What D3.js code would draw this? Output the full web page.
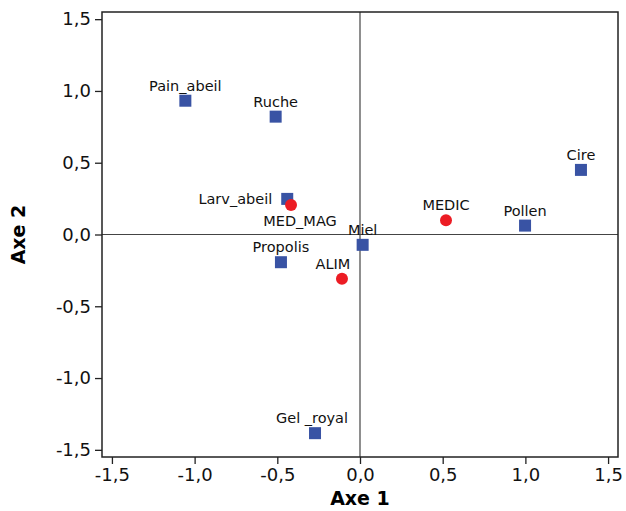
<!DOCTYPE html>
<html>
<head>
<meta charset="utf-8">
<script src="https://cdn.jsdelivr.net/npm/d3@7"></script>
<style>
    body { margin: 0; background: #fff; }
    svg { font-family: "DejaVu Sans", Verdana, sans-serif; }
    .tick text { fill: #111; }
</style>
</head>
<body>
<div id="chart"></div>
<script>
    // modalities (squares) and supplementary variables (circles)
    var names = ["Pain_abeil", "Ruche", "Larv_abeil", "Propolis", "Miel", "Pollen", "Cire", "Gel _royal"];
    var axe1 = [-1.056, -0.51, -0.44, -0.478, 0.016, 0.998, 1.336, -0.272];
    var axe2 = [0.932, 0.821, 0.248, -0.193, -0.072, 0.062, 0.45, -1.384];

    var supNames = ["MED_MAG", "MEDIC", "ALIM"];
    var supAxe1 = [-0.417, 0.52, -0.109];
    var supAxe2 = [0.206, 0.10, -0.309];

    var ticks = [-1.5, -1.0, -0.5, 0.0, 0.5, 1.0, 1.5];

    // label placement relative to marker (dx, dy, anchor)
    var labelPos = {
        "Larv_abeil": [-15, 5, "end"],
        "MED_MAG": [9, 21, "middle"],
        "ALIM": [-9, -10, "middle"],
        "Gel _royal": [-3, -10, "middle"]
    };

    var margin = {top: 12, right: 8, bottom: 54, left: 102},
        width = 626 - margin.left - margin.right,
        height = 511 - margin.top - margin.bottom;

    var x = d3.scaleLinear().domain([-1.56, 1.56]).range([0, width]);
    var y = d3.scaleLinear().domain([-1.55, 1.55]).range([height, 0]);

    var fmt = function(d) { return d3.format(".1f")(d).replace(".", ",").replace("−", "-"); };

    var svg = d3.select("#chart").append("svg")
        .attr("width", 626)
        .attr("height", 511)
        .append("g")
        .attr("transform", "translate(" + margin.left + "," + margin.top + ")");

    // zero reference lines
    svg.append("line")
        .attr("x1", x(0)).attr("x2", x(0))
        .attr("y1", 0).attr("y2", height)
        .attr("stroke", "#444").attr("stroke-width", 1.2);
    svg.append("line")
        .attr("x1", 0).attr("x2", width)
        .attr("y1", y(0)).attr("y2", y(0))
        .attr("stroke", "#444").attr("stroke-width", 1.2);

    // frame
    svg.append("rect")
        .attr("width", width).attr("height", height)
        .attr("fill", "none").attr("stroke", "#222").attr("stroke-width", 1.5);

    // axes
    var xAxis = svg.append("g")
        .attr("transform", "translate(0," + height + ")")
        .call(d3.axisBottom(x).tickValues(ticks).tickFormat(fmt).tickSize(7).tickPadding(4));
    var yAxis = svg.append("g")
        .call(d3.axisLeft(y).tickValues(ticks).tickFormat(fmt).tickSize(7).tickPadding(4));
    [xAxis, yAxis].forEach(function(a) {
        a.select(".domain").remove();
        a.selectAll(".tick line").attr("stroke", "#222").attr("stroke-width", 1.3);
        a.selectAll(".tick text").attr("font-size", "18px").attr("font-family", "DejaVu Sans");
    });

    // axis titles
    svg.append("text")
        .attr("x", x(0)).attr("y", height + 48)
        .attr("text-anchor", "middle")
        .attr("font-size", "19px").attr("font-weight", "bold")
        .text("Axe 1");
    svg.append("text")
        .attr("transform", "translate(" + (-77) + "," + y(0) + ") rotate(-90)")
        .attr("text-anchor", "middle")
        .attr("font-size", "19px").attr("font-weight", "bold")
        .text("Axe 2");

    function labelOf(n) { return labelPos[n] || [0, -10, "middle"]; }

    // squares
    var sq = 12;
    svg.selectAll(".sq")
        .data(names)
        .enter().append("rect")
        .attr("class", "sq")
        .attr("x", function(d, i) { return x(axe1[i]) - sq / 2; })
        .attr("y", function(d, i) { return y(axe2[i]) - sq / 2; })
        .attr("width", sq).attr("height", sq)
        .attr("fill", "#3953a4");

    // circles
    svg.selectAll(".sup")
        .data(supNames)
        .enter().append("circle")
        .attr("class", "sup")
        .attr("cx", function(d, i) { return x(supAxe1[i]); })
        .attr("cy", function(d, i) { return y(supAxe2[i]); })
        .attr("r", 6)
        .attr("fill", "#ec1c24");

    // labels
    svg.selectAll(".lab")
        .data(names)
        .enter().append("text")
        .attr("class", "lab")
        .attr("x", function(d, i) { return x(axe1[i]) + labelOf(d)[0]; })
        .attr("y", function(d, i) { return y(axe2[i]) + labelOf(d)[1]; })
        .attr("text-anchor", function(d) { return labelOf(d)[2]; })
        .attr("font-size", "14.5px").attr("fill", "#111")
        .text(function(d) { return d; });
    svg.selectAll(".slab")
        .data(supNames)
        .enter().append("text")
        .attr("class", "slab")
        .attr("x", function(d, i) { return x(supAxe1[i]) + labelOf(d)[0]; })
        .attr("y", function(d, i) { return y(supAxe2[i]) + labelOf(d)[1]; })
        .attr("text-anchor", function(d) { return labelOf(d)[2]; })
        .attr("font-size", "14.5px").attr("fill", "#111")
        .text(function(d) { return d; });
</script>
</body>
</html>
